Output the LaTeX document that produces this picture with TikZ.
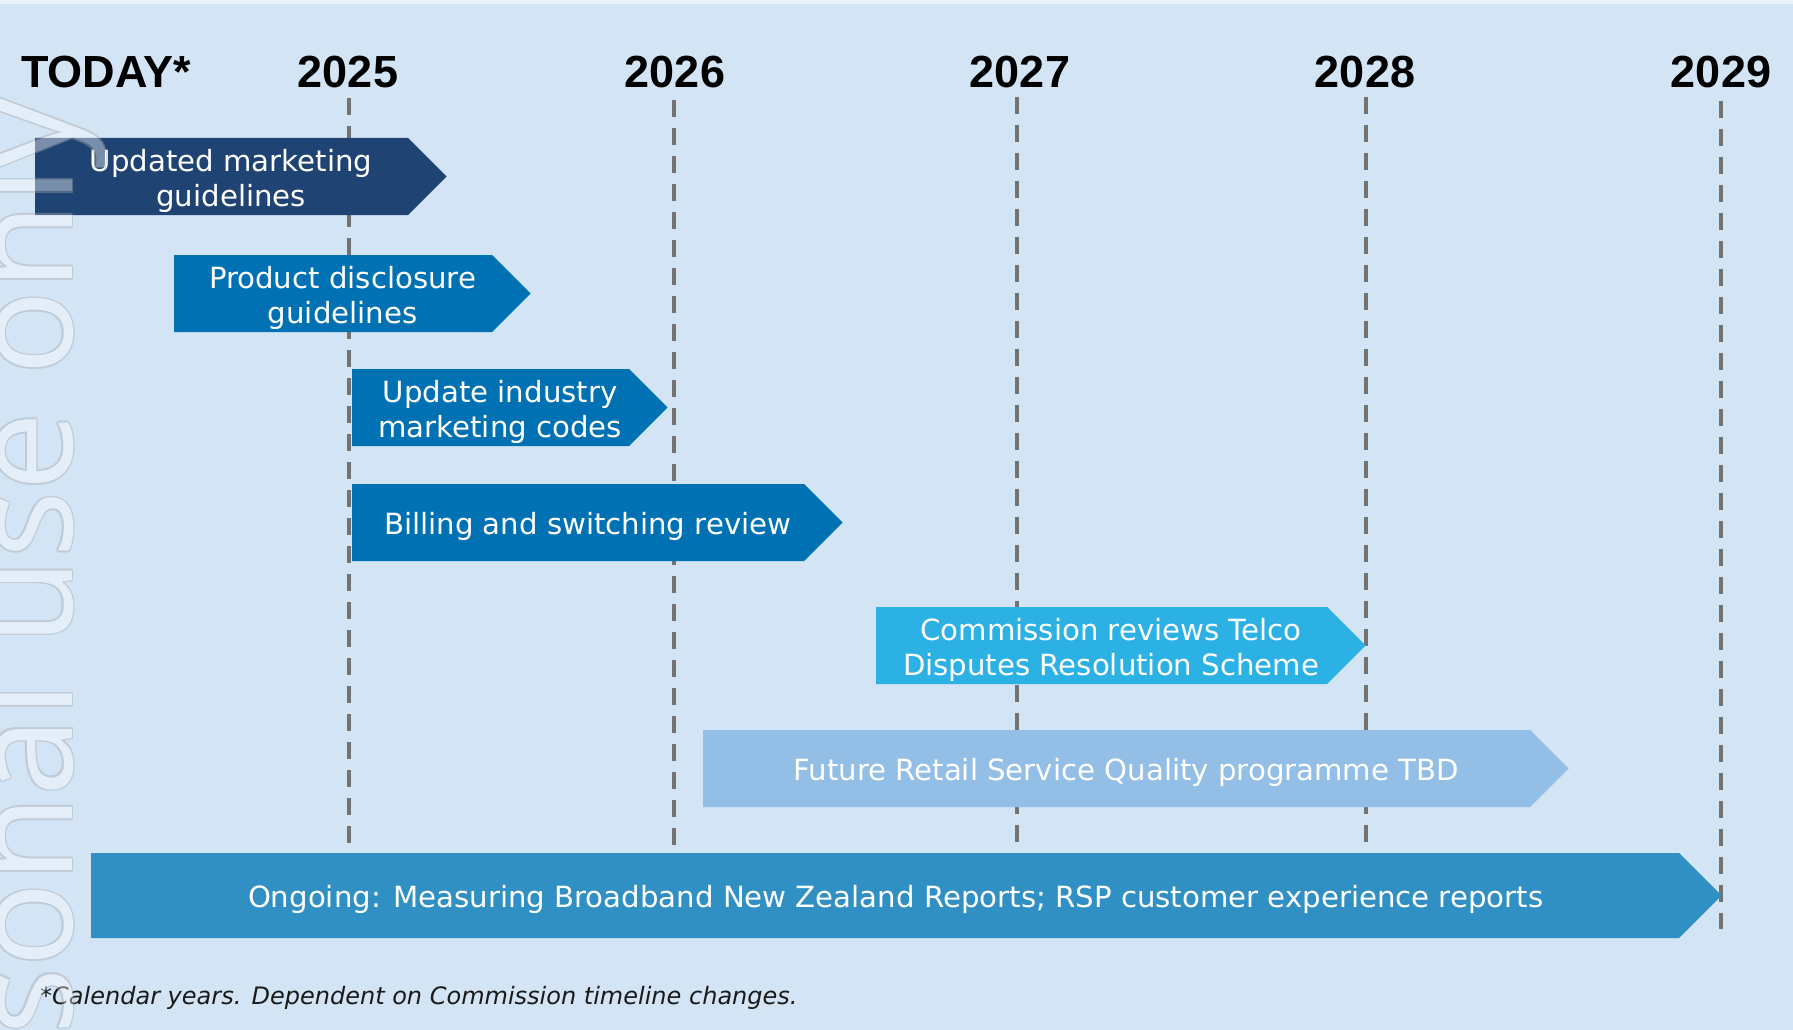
\documentclass[tikz,border=0pt]{standalone}
\usepackage{fontspec}
\setmainfont{DejaVu Sans}[ItalicFont={DejaVu Sans Oblique}]
\newfontfamily\hdrfont{Liberation Sans}
\newfontfamily\wmfont{Open Sans}
\definecolor{bgblue}{HTML}{D3E4F5}
\definecolor{topstrip}{HTML}{EAF1F9}
\definecolor{navy}{HTML}{1F4372}
\definecolor{midblue}{HTML}{0071B2}
\definecolor{cyanblue}{HTML}{2BB1E4}
\definecolor{paleblue}{HTML}{93BEE6}
\definecolor{ongoingblue}{HTML}{3190C3}
\definecolor{dashgray}{HTML}{737373}
\definecolor{fncol}{HTML}{1A1A1A}
\definecolor{wmgray}{HTML}{A3A8AC}
\tikzset{
  yearlbl/.style={font=\hdrfont\bfseries\fontsize{45}{50}\selectfont, anchor=base, inner sep=0pt, text=black},
  yearline/.style={draw=dashgray, line width=4pt, dash pattern=on 17pt off 11pt},
  boxtext/.style={text=white, align=center, font=\fontsize{29.2}{35}\selectfont, inner sep=0pt},
  wmtext/.style={rotate=90, anchor=base east, inner sep=0pt, font=\wmfont\fontsize{141}{141}\selectfont},
}
% name, x0, xbody, y0, y1, colour, text
\newcommand\tlbar[7]{%
  \fill[#6] (#2,#4) -- (#3,#4) -- ({#3+(#5-#4)/2},{(#4+#5)/2}) -- (#3,#5) -- (#2,#5) -- cycle;
  \node[boxtext] (#1) at ({(#2+#3+(#5-#4)/4)/2},{(#4+#5)/2+4}) {#7};
}
\begin{document}
\begin{tikzpicture}[x=1pt,y=-1pt]
\useasboundingbox (0,0) rectangle (1793,1030);
\clip (0,0) rectangle (1793,1030);
\fill[bgblue] (0,0) rectangle (1793,1030);
\fill[topstrip] (0,0) rectangle (1793,4);

% year labels
\node[yearlbl, anchor=base west] (today) at (21,88) {TODAY*};
\node[yearlbl] (y2025) at (348,88) {2025};
\node[yearlbl] (y2026) at (675,88) {2026};
\node[yearlbl] (y2027) at (1020,88) {2027};
\node[yearlbl] (y2028) at (1365,88) {2028};
\node[yearlbl] (y2029) at (1721,88) {2029};

% dashed year lines
\coordinate (l25a) at (349,98); \coordinate (l25b) at (349,853);
\coordinate (l26a) at (674,100); \coordinate (l26b) at (674,853);
\coordinate (l27a) at (1017,97); \coordinate (l27b) at (1017,853);
\coordinate (l28a) at (1366,97); \coordinate (l28b) at (1366,853);
\coordinate (l29a) at (1721,101); \coordinate (l29b) at (1721,929);
\draw[yearline] (l25a) -- (l25b);
\draw[yearline] (l26a) -- (l26b);
\draw[yearline] (l27a) -- (l27b);
\draw[yearline] (l28a) -- (l28b);
\draw[yearline] (l29a) -- (l29b);

% bars
\tlbar{b1}{35}{408}{138}{215}{navy}{Updated marketing\\guidelines}
\tlbar{b2}{174}{492}{255}{332}{midblue}{Product disclosure\\guidelines}
\tlbar{b3}{352}{629}{369}{446}{midblue}{Update industry\\marketing codes}
\tlbar{b4}{352}{804}{484}{561}{midblue}{Billing and switching review}
\tlbar{b5}{876}{1327}{607}{684}{cyanblue}{Commission reviews Telco\\Disputes Resolution Scheme}
\tlbar{b6}{703}{1530}{730}{807}{paleblue}{Future Retail Service Quality programme TBD}
\tlbar{b7}{91}{1679}{853}{938}{ongoingblue}{Ongoing: Measuring Broadband New Zealand Reports; RSP customer experience reports}

% footnote
\node[anchor=base west, inner sep=0pt, text=fncol, font=\itshape\fontsize{24}{28}\selectfont] (fn) at (40,1004) {*Calendar years. Dependent on Commission timeline changes.};

% watermark (clipped at the left and bottom edges, as in the reference)
\begin{scope}[transparency group, opacity=0.4]
  \foreach \dx/\dy [count=\i] in {1.6/0, -1.6/0, 0/1.6, 0/-1.6, 1.13/1.13, 1.13/-1.13, -1.13/1.13, -1.13/-1.13}{
    \node[wmtext, text=wmgray] (wmo\i) at ({72+\dx},{97+\dy}) {For personal use only};
  }
  \node[wmtext, text=white] (wm) at (72,97) {For personal use only};
\end{scope}
\end{tikzpicture}
\end{document}
